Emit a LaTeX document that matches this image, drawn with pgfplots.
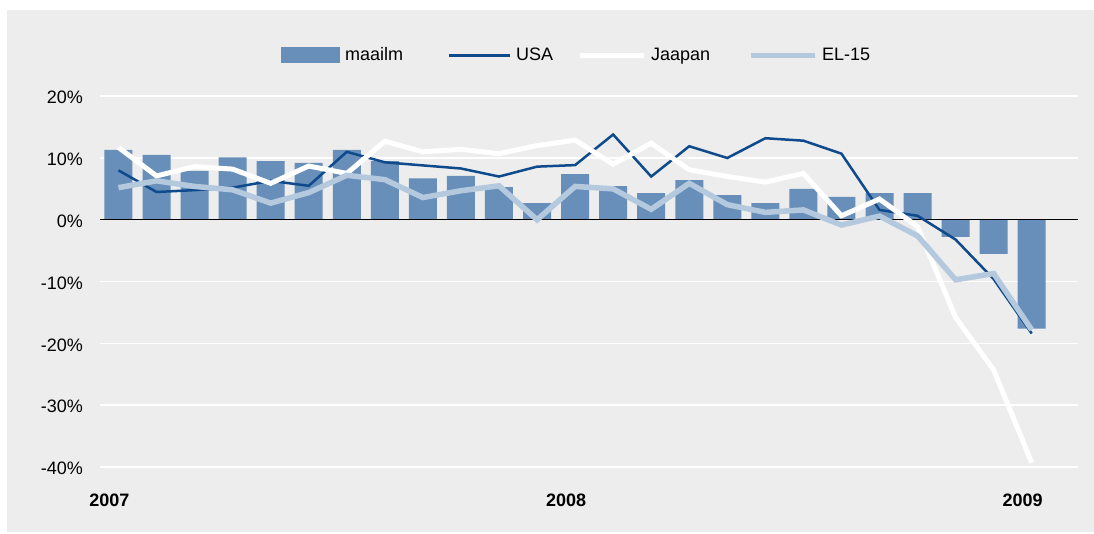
\documentclass[border=0pt]{standalone}
\usepackage{fontspec}
\setmainfont{Liberation Sans}
\usepackage{pgfplots}
\pgfplotsset{compat=1.18}
\definecolor{bg}{RGB}{236,237,236}
\definecolor{barblue}{RGB}{103,143,185}
\definecolor{usa}{RGB}{14,74,140}
\definecolor{eu}{RGB}{180,201,221}

\begin{document}
\begin{tikzpicture}
% page and grey panel (1pt = 1px of the reference)
\fill[white] (-100pt,-67pt) rectangle (994pt,467pt);
\fill[bg] (-93pt,-65pt) rectangle (994pt,457pt);
\begin{axis}[
  at={(0pt,0pt)}, anchor=south west,
  scale only axis, width=978pt, height=370.8pt,
  xmin=-0.486, xmax=25.217, ymin=-40, ymax=20,
  clip=false,
  axis line style={draw=none}, tick style={draw=none},
  font=\fontsize{18}{21}\selectfont,
  ytick={-40,-30,-20,-10,10,20},
  yticklabels={-40\%,-30\%,-20\%,-10\%,10\%,20\%},
  extra y ticks={0}, extra y tick labels={0\%},
  extra y tick style={grid=none},
  ymajorgrids, grid style={white, line width=1.5pt},
  yticklabel style={anchor=east, inner sep=0pt, xshift=-17pt, yshift=-1.5pt},
  xtick={0,12,24}, xticklabels={2007,2008,2009},
  xticklabel style={font=\fontsize{18}{21}\selectfont\bfseries, anchor=center, inner sep=0pt, xshift=-9pt, yshift=-33pt},
  legend columns=4,
  legend style={at={(0.185,1.111)}, anchor=west, draw=none, fill=none,
    inner sep=0pt, nodes={inner sep=0pt, anchor=west},
    font=\fontsize{18}{21}\selectfont,
    /tikz/every odd column/.append style={column sep=5pt},
    /tikz/column 2/.append style={column sep=44pt},
    /tikz/column 4/.append style={column sep=24pt},
    /tikz/column 6/.append style={column sep=38pt}},
]
\addplot[ybar, bar width=28pt, fill=barblue, draw=none,
  legend image code/.code={\fill[barblue] (0pt,-7.7pt) rectangle (59pt,7.7pt);}]
  coordinates {(0,11.3) (1,10.5) (2,7.9) (3,10.1) (4,9.5) (5,9.2) (6,11.3) (7,9.5)
  (8,6.7) (9,7.1) (10,5.3) (11,2.7) (12,7.4) (13,5.45) (14,4.3) (15,6.4) (16,4.0)
  (17,2.7) (18,5.0) (19,3.7) (20,4.3) (21,4.3) (22,-2.75) (23,-5.5) (24,-17.6)};
\addlegendentry{maailm}
\draw[black, line width=1.4pt] (axis cs:-0.486,0) -- (axis cs:25.217,0);
\addplot[usa, line width=2.5pt, mark=none,
  legend image code/.code={\draw[usa, line width=3pt] (0pt,0pt) -- (61pt,0pt);}]
  coordinates {(0,8.0) (1,4.5) (2,4.8) (3,5.2) (4,6.3) (5,5.5) (6,11.0) (7,9.3)
  (8,8.8) (9,8.3) (10,7.0) (11,8.6) (12,8.85) (13,13.8) (14,7.0) (15,11.9) (16,10.0)
  (17,13.2) (18,12.8) (19,10.7) (20,1.6) (21,0.65) (22,-3.2) (23,-9.6) (24,-18.4)};
\addlegendentry{USA}
\addplot[white, line width=5pt, mark=none,
  legend image code/.code={\draw[white, line width=5pt] (0pt,0pt) -- (64pt,0pt);}]
  coordinates {(0,11.7) (1,7.1) (2,8.6) (3,8.2) (4,5.9) (5,8.7) (6,7.5) (7,12.7)
  (8,11.0) (9,11.4) (10,10.7) (11,12.0) (12,12.9) (13,9.0) (14,12.4) (15,8.1) (16,7.0)
  (17,6.1) (18,7.5) (19,0.65) (20,3.35) (21,-1.1) (22,-15.8) (23,-24.3) (24,-39.3)};
\addlegendentry{Jaapan}
\addplot[eu, line width=5.5pt, mark=none,
  legend image code/.code={\draw[eu, line width=5pt] (0pt,0pt) -- (64pt,0pt);}]
  coordinates {(0,5.2) (1,6.3) (2,5.4) (3,4.85) (4,2.7) (5,4.4) (6,7.2) (7,6.5)
  (8,3.6) (9,4.7) (10,5.5) (11,0.0) (12,5.4) (13,5.0) (14,1.7) (15,5.9) (16,2.45)
  (17,1.2) (18,1.6) (19,-0.85) (20,0.6) (21,-2.6) (22,-9.7) (23,-8.7) (24,-17.8)};
\addlegendentry{EL-15}
\end{axis}
\end{tikzpicture}
\end{document}
